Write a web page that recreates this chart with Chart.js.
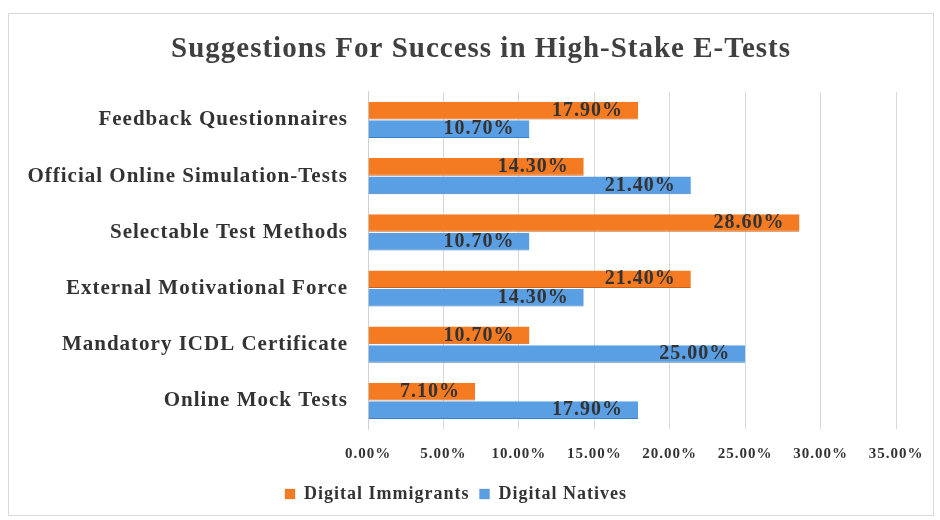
<!DOCTYPE html>
<html>
<head>
<meta charset="utf-8">
<script src="https://cdn.jsdelivr.net/npm/chart.js@4/dist/chart.umd.min.js"></script>
<style>
  html, body { margin: 0; padding: 0; background: #fff; }
  #wrap { position: relative; width: 940px; height: 520px; }
  #frame { position: absolute; left: 8px; top: 13px; right: 6px; bottom: 4px; border: 1px solid #d9d9d9; pointer-events: none; }
</style>
</head>
<body>
<div id="wrap">
  <canvas id="chart" width="940" height="520"></canvas>
  <div id="frame"></div>
</div>
<script>
// Categories, top to bottom as shown
const CATEGORIES = [
  'Feedback Questionnaires',
  'Official Online Simulation-Tests',
  'Selectable Test Methods',
  'External Motivational Force',
  'Mandatory ICDL Certificate',
  'Online Mock Tests',
];
const DIGITAL_IMMIGRANTS = [17.9, 14.3, 28.6, 21.4, 10.7, 7.1];
const DIGITAL_NATIVES    = [10.7, 21.4, 10.7, 14.3, 25.0, 17.9];
const X_TICKS = [0, 5, 10, 15, 20, 25, 30, 35];

const SERIF = "'Liberation Serif', 'DejaVu Serif', serif";
const COLOR = { immigrants: '#F47B22', natives: '#5A9FE3' };
const PAD_LEFT = 16;
const PLOT_LEFT = 368;

// The source image has wide, loosely spaced type; widen all canvas text a bit.
const wideText = {
  id: 'wideText',
  beforeUpdate(chart) { chart.ctx.letterSpacing = '1px'; },
  beforeDraw(chart) { chart.ctx.letterSpacing = '1px'; },
};

// Title sits a little right of the canvas centre in the source.
const shiftTitle = {
  id: 'shiftTitle',
  afterLayout(chart) {
    if (chart.titleBlock) {
      chart.titleBlock.left += 25;
      chart.titleBlock.right += 25;
    }
  },
};

// Values written just inside the end of each bar
const barValueLabels = {
  id: 'barValueLabels',
  afterDatasetsDraw(chart) {
    const { ctx } = chart;
    ctx.save();
    ctx.font = `bold 20px ${SERIF}`;
    ctx.fillStyle = '#333';
    ctx.textAlign = 'right';
    ctx.textBaseline = 'middle';
    chart.data.datasets.forEach((ds, i) => {
      chart.getDatasetMeta(i).data.forEach((bar, j) => {
        ctx.fillText(ds.data[j].toFixed(2) + '%', bar.x - 15, bar.y);
      });
    });
    ctx.restore();
  },
};

new Chart(document.getElementById('chart'), {
  type: 'bar',
  data: {
    labels: CATEGORIES,
    datasets: [
      { label: 'Digital Immigrants', data: DIGITAL_IMMIGRANTS, backgroundColor: COLOR.immigrants,
        borderColor: '#c9621a', borderWidth: { bottom: 1 }, borderSkipped: false },
      { label: 'Digital Natives', data: DIGITAL_NATIVES, backgroundColor: COLOR.natives,
        borderColor: '#3f7fc0', borderWidth: { bottom: 1 }, borderSkipped: false },
    ],
  },
  options: {
    indexAxis: 'y',
    responsive: false,
    animation: false,
    layout: { padding: { left: PAD_LEFT, right: 44, top: 0, bottom: 7 } },
    datasets: { bar: { categoryPercentage: 0.66, barPercentage: 0.95 } },
    plugins: {
      title: {
        display: true,
        text: 'Suggestions For Success in High-Stake E-Tests',
        color: '#404040',
        font: { family: SERIF, size: 29, weight: 'bold' },
        padding: { top: 32, bottom: 25 },
      },
      legend: {
        position: 'bottom',
        labels: {
          color: '#333',
          font: { family: SERIF, size: 18, weight: 'bold' },
          boxWidth: 10,
          boxHeight: 10,
          padding: 10,
        },
      },
      tooltip: { enabled: false },
    },
    scales: {
      x: {
        min: 0,
        max: 35,
        afterBuildTicks: (scale) => { scale.ticks = X_TICKS.map((v) => ({ value: v })); },
        afterFit: (scale) => { scale.height = 46; },
        grid: { color: '#d9d9d9', drawTicks: false },
        border: { display: false },
        ticks: {
          padding: 16,
          color: '#333',
          font: { family: SERIF, size: 15, weight: 'bold' },
          callback: (v) => v.toFixed(2) + '%',
        },
      },
      y: {
        afterFit: (scale) => { scale.width = PLOT_LEFT - PAD_LEFT; },
        grid: { display: false, drawTicks: false },
        border: { display: true, color: '#d0d0d0' },
        ticks: {
          padding: 20,
          color: '#333',
          font: { family: SERIF, size: 21, weight: 'bold' },
        },
      },
    },
  },
  plugins: [wideText, shiftTitle, barValueLabels],
});
</script>
</body>
</html>
